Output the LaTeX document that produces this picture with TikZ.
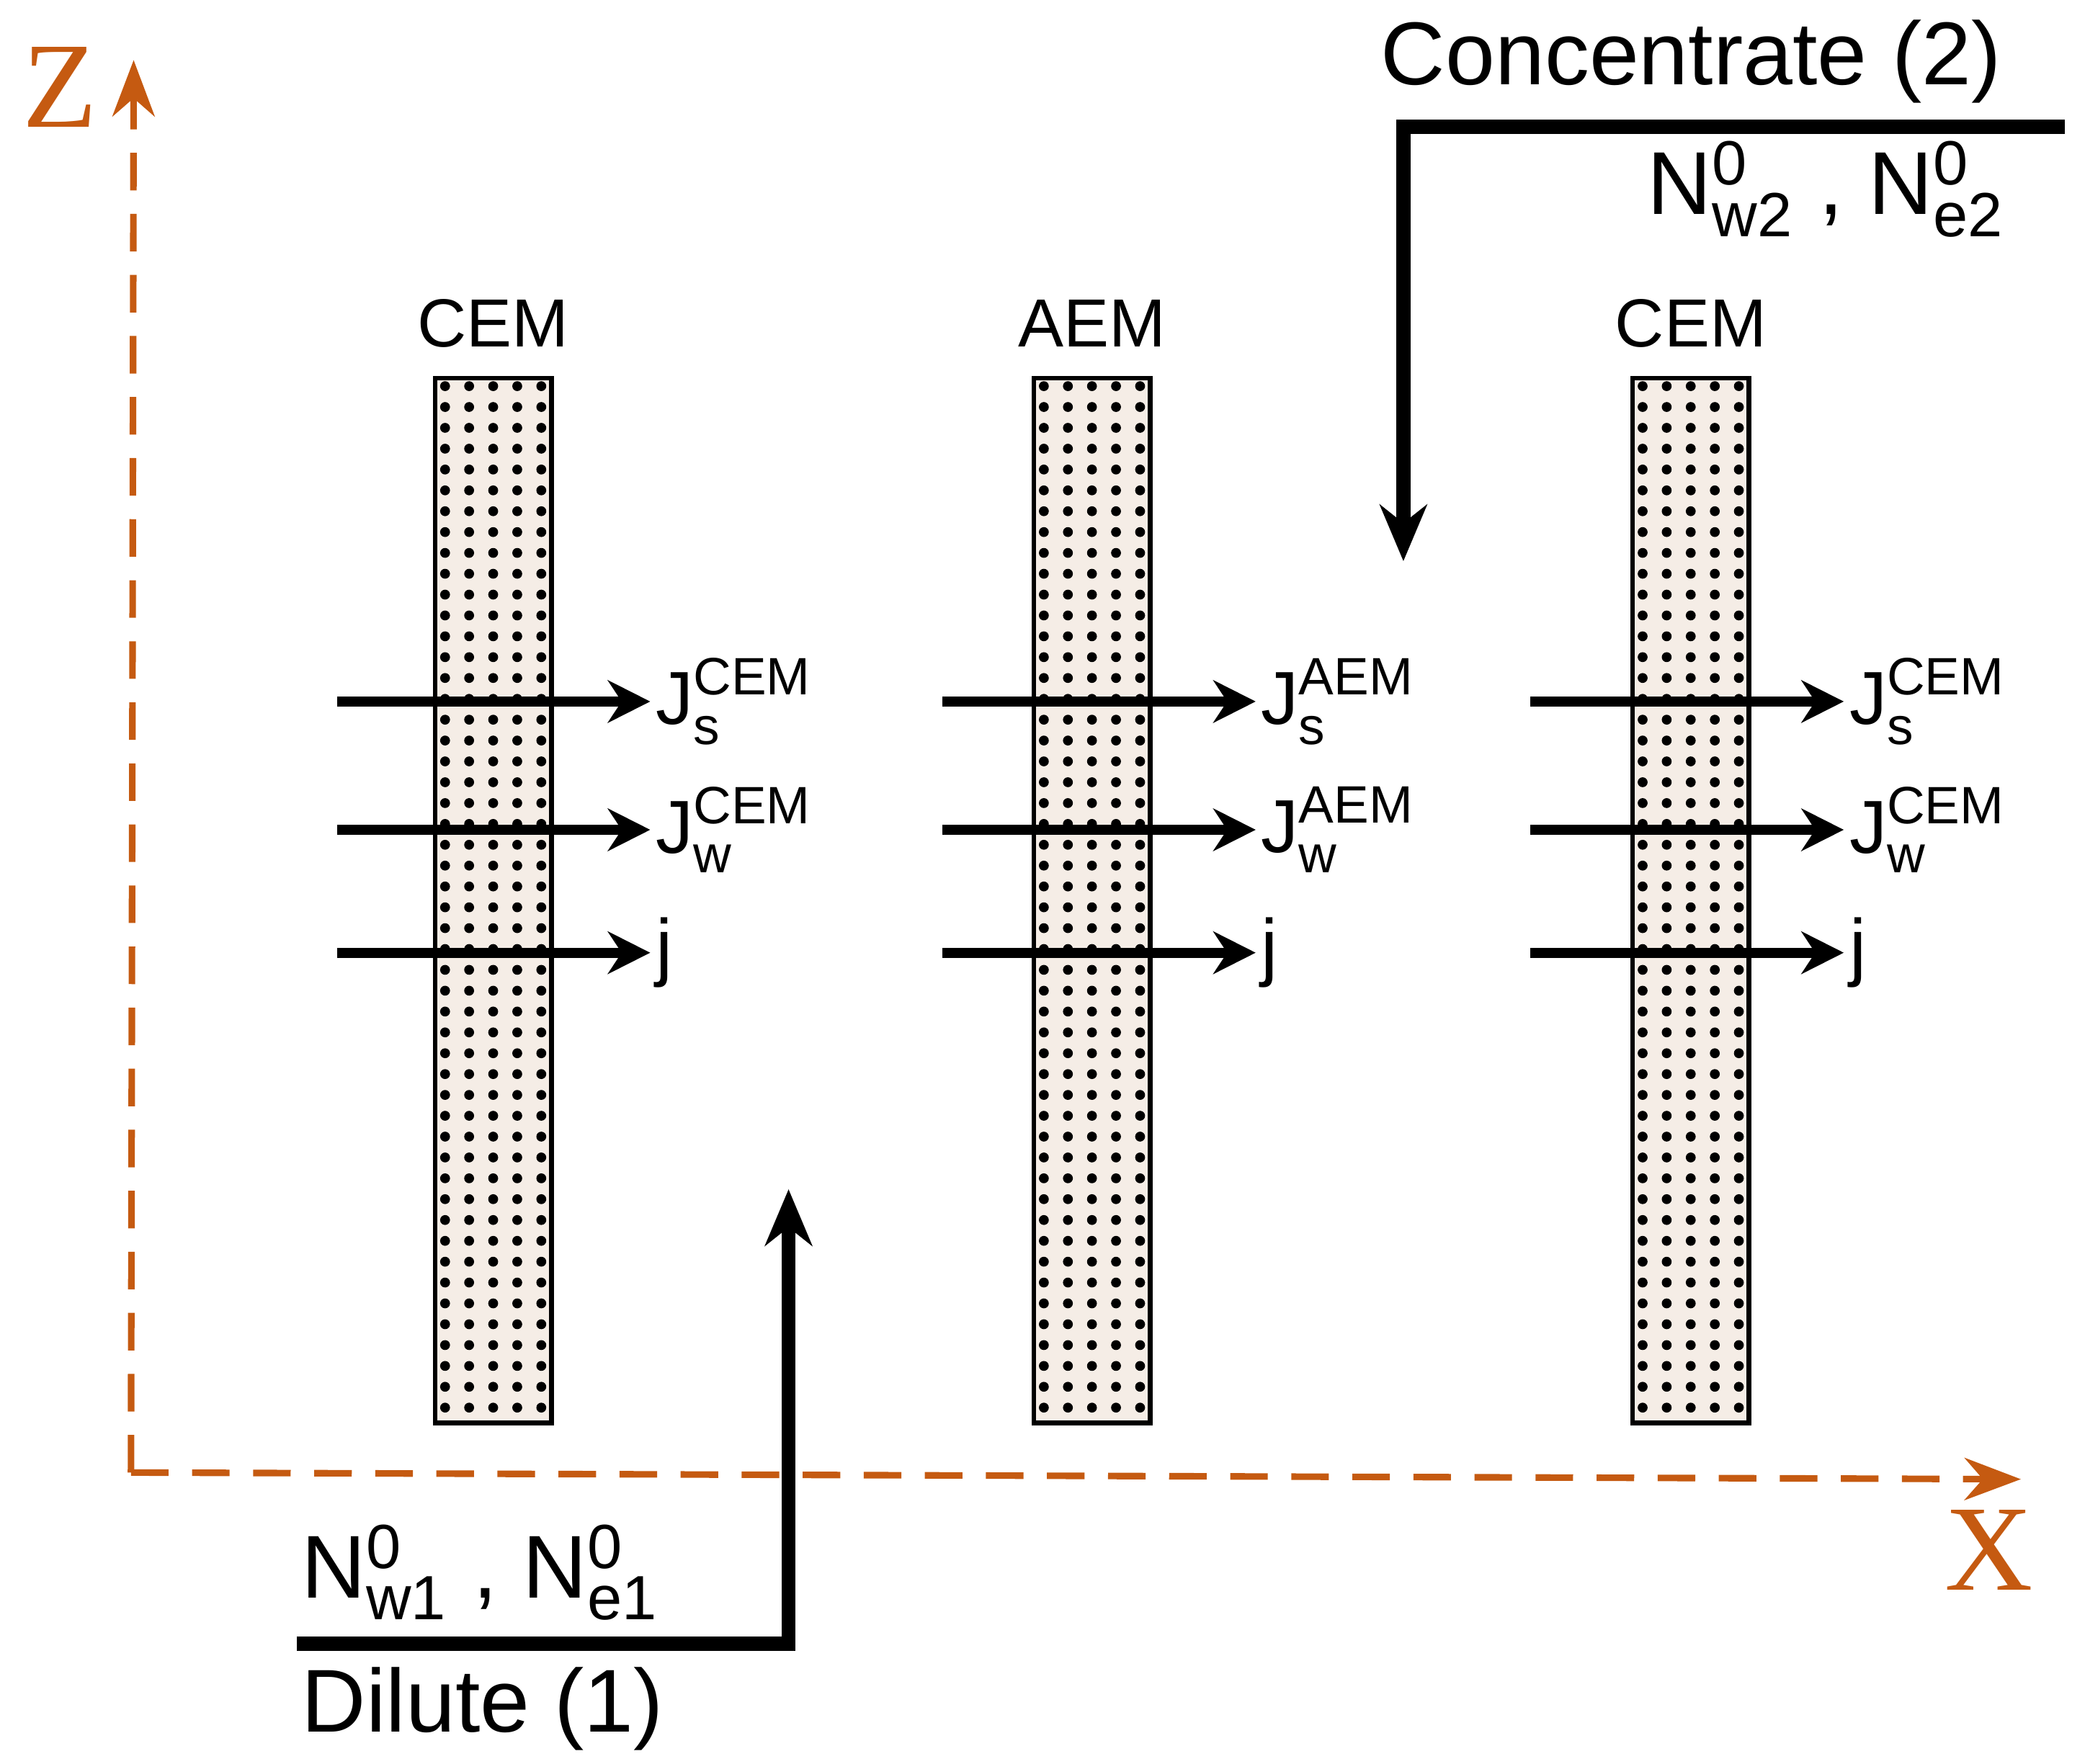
\documentclass[tikz,border=0pt]{standalone}
\usepackage{fontspec}
\setmainfont{Liberation Sans}
\usepackage{tikz}
\usetikzlibrary{arrows.meta,positioning}
\definecolor{axisorange}{RGB}{197,90,17}
\definecolor{membfill}{RGB}{245,237,230}
\tikzset{
  memb/.style={draw, line width=1pt, fill=membfill, minimum width=0.87cm, minimum height=7.82cm, inner sep=0pt},
  flux/.style={line width=2.2pt, -{Stealth[length=9pt,width=9pt]}},
  stream/.style={line width=3pt, -{Stealth[length=12pt,width=10pt]}},
  axis/.style={axisorange, line width=1.4pt, dash pattern=on 8pt off 5pt, -{Stealth[length=12pt,width=9pt]}},
  lbl/.style={font=\fontsize{16}{18}\selectfont, inner sep=0pt, anchor=west},
  big/.style={font=\fontsize{19}{22}\selectfont, inner sep=2pt}
}
\begin{document}
\begin{tikzpicture}
\useasboundingbox (0,0) rectangle (15.6,13.2);
% axes
\coordinate (o) at (0.98,2.18);
\coordinate (ztip) at (1.00,12.75);
\coordinate (xtip) at (15.12,2.13);
\draw[axis] (o) -- (ztip);
\draw[axis] (o) -- (xtip);
\node[axisorange, font=\fontspec{Liberation Serif}\fontsize{26}{26}\selectfont] (zl) at (0.45,12.55) {Z};
\node[axisorange, font=\fontspec{Liberation Serif}\fontsize{26}{26}\selectfont] (xl) at (14.88,1.6) {X};
% membranes
\foreach \name/\cx/\txt in {m1/3.69/CEM, m2/8.17/AEM, m3/12.65/CEM}{
  \node[memb] (\name) at (\cx,6.46) {};
  \foreach \i in {0,...,4}
    \foreach \k in {0,...,49}
      \fill (\cx-0.36+\i*0.18,10.31-\k*0.156) circle (0.037);
  \node[font=\fontsize{14.5}{16}\selectfont] (\name t) at (\cx,10.78) {\txt};
}
% fluxes
\foreach \name/\x/\m in {m1/2.52/CEM, m2/7.05/AEM, m3/11.45/CEM}{
  \coordinate (\name s0) at (\x,7.95);
  \coordinate (\name w0) at (\x,6.99);
  \coordinate (\name j0) at (\x,6.07);
  \node[lbl] (\name s) at (\x+2.38,7.95) {J$_{\mathrm{s}}^{\mathrm{\m}}$};
  \node[lbl] (\name w) at (\x+2.38,6.99) {J$_{\mathrm{w}}^{\mathrm{\m}}$};
  \node[lbl] (\name j) at (\x+2.38,6.07) {j};
  \draw[flux] (\name s0) -- ([xshift=-1pt]\name s.west);
  \draw[flux] (\name w0) -- ([xshift=-1pt]\name w.west);
  \draw[flux] (\name j0) -- ([xshift=-1pt]\name j.west);
}
% streams
\coordinate (c0) at (15.45,12.25);
\coordinate (c1) at (10.50,12.25);
\coordinate (c2) at (10.50,9.0);
\draw[stream, line join=miter] (c0) -- (c1) -- (c2);
\node[big, anchor=south east] (conc) at (15.05,12.35) {Concentrate (2)};
\node[big, anchor=north west] (nc) at (12.25,12.22) {$\mathrm{N}^{\mathrm{0}}_{\mathrm{w2}}$ , $\mathrm{N}^{\mathrm{0}}_{\mathrm{e2}}$};
\coordinate (d0) at (2.22,0.90);
\coordinate (d1) at (5.90,0.90);
\coordinate (d2) at (5.90,4.30);
\draw[stream, line join=miter] (d0) -- (d1) -- (d2);
\node[big, anchor=south west] (nd) at (2.18,1.00) {$\mathrm{N}^{\mathrm{0}}_{\mathrm{w1}}$ , $\mathrm{N}^{\mathrm{0}}_{\mathrm{e1}}$};
\node[big, anchor=north west] (dil) at (2.18,0.80) {Dilute (1)};
\end{tikzpicture}
\end{document}
